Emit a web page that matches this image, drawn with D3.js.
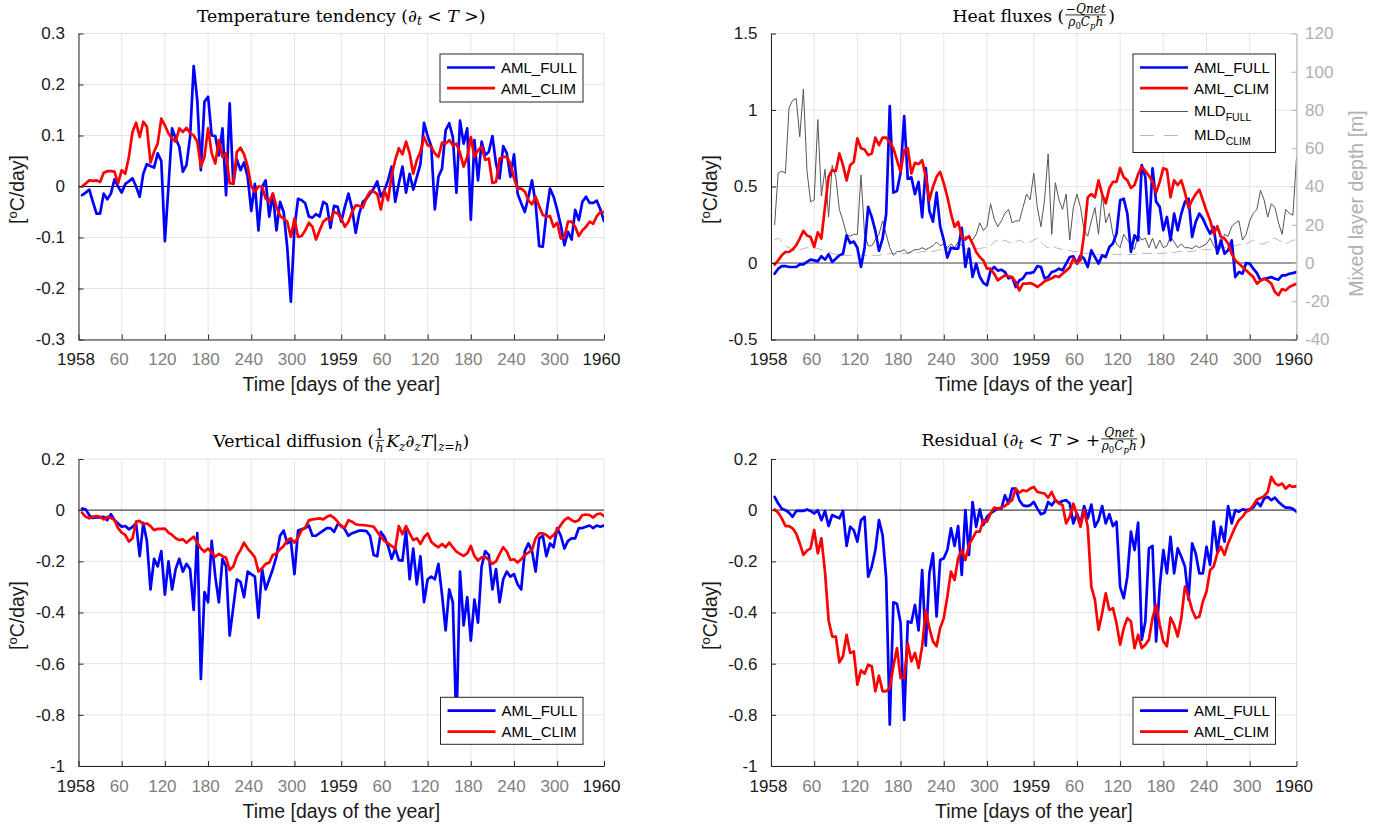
<!DOCTYPE html>
<html>
<head>
<meta charset="utf-8">
<title>AML heat budget 1958-1959</title>
<script src="https://cdnjs.cloudflare.com/ajax/libs/d3/7.8.5/d3.min.js"></script>
<style>
  body { margin: 0; background: #fff; }
  svg { display: block; font-family: "Liberation Sans", Arial, Helvetica, sans-serif; }
  svg text { white-space: pre; }
  .grid line { stroke: #e4e4e4; stroke-width: 1; }
  .data { fill: none; stroke-linejoin: round; stroke-linecap: round; }
  .title text { font-family: "DejaVu Serif", serif; fill: #000; }
</style>
</head>
<body>
<div id="chart"></div>
<script>
// 5-day means, days counted from 1 Jan 1958
var days = d3.range(5, 731, 5);
var xTickDays = [0, 60, 120, 180, 240, 300, 365, 425, 485, 545, 605, 665, 730];
var xTickLabels = ["1958", "60", "120", "180", "240", "300", "1959", "60", "120", "180", "240", "300", "1960"];

// temperature tendency [degC/day]
var tendFull = [
  -0.017,-0.012,-0.006,-0.03,-0.053,-0.053,-0.014,-0.025,-0.014,0.014,
  0.0,-0.012,0.005,0.01,0.016,0.0,-0.02,0.025,0.044,0.04,
  0.037,0.065,0.05,-0.107,0.0,0.114,0.094,0.078,0.029,0.042,
  0.097,0.236,0.169,0.032,0.166,0.176,0.1,0.099,0.061,0.114,
  -0.017,0.163,0.005,0.053,0.032,0.047,0.019,-0.048,0.005,-0.086,
  -0.001,0.012,-0.059,-0.014,-0.086,-0.03,-0.05,-0.12,-0.226,-0.081,
  -0.024,-0.027,-0.033,-0.059,-0.061,-0.054,-0.059,-0.03,-0.035,-0.081,
  -0.038,-0.04,-0.069,-0.04,-0.014,-0.043,-0.091,-0.053,-0.03,-0.024,
  -0.014,-0.004,0.01,-0.02,-0.007,0.012,0.039,-0.03,0.006,0.039,
  -0.012,0.025,-0.006,0.019,0.044,0.125,0.099,0.079,-0.045,0.019,
  0.035,0.11,0.124,0.097,-0.012,0.129,0.084,0.114,-0.065,0.091,
  0.012,0.088,0.061,0.068,0.099,0.045,0.016,0.079,0.065,0.019,
  0.063,-0.014,-0.033,-0.05,-0.02,0.012,-0.033,-0.117,-0.118,-0.053,
  -0.004,-0.02,-0.046,-0.076,-0.115,-0.089,-0.104,-0.046,-0.066,-0.03,
  -0.02,-0.032,-0.032,-0.028,-0.045,-0.068
];
var tendClim = [
  0.0,0.006,0.012,0.011,0.012,0.009,0.027,0.03,0.03,0.029,
  0.006,0.032,0.025,0.058,0.107,0.125,0.097,0.127,0.117,0.047,
  0.068,0.084,0.133,0.12,0.104,0.094,0.088,0.114,0.107,0.115,
  0.105,0.1,0.088,0.039,0.058,0.114,0.065,0.045,0.091,0.058,
  0.065,0.006,0.006,0.068,0.076,0.063,0.039,0.0,-0.01,0.0,
  0.0,-0.024,-0.03,-0.014,-0.04,-0.058,-0.063,-0.069,-0.099,-0.063,
  -0.099,-0.097,-0.086,-0.071,-0.079,-0.104,-0.086,-0.069,-0.063,-0.066,
  -0.05,-0.053,-0.063,-0.079,-0.069,-0.05,-0.037,-0.038,-0.041,-0.022,
  -0.01,-0.01,-0.015,-0.045,-0.008,-0.027,0.022,0.052,0.075,0.063,
  0.088,0.065,0.025,0.052,0.068,0.097,0.081,0.078,0.065,0.058,
  0.086,0.084,0.091,0.081,0.084,0.066,0.039,0.058,0.097,0.058,
  0.071,0.078,0.052,0.055,0.007,0.009,0.055,0.058,0.058,0.045,
  0.016,-0.004,-0.004,-0.01,-0.027,-0.035,-0.02,-0.039,-0.056,-0.059,
  -0.058,-0.079,-0.071,-0.102,-0.099,-0.069,-0.069,-0.079,-0.097,-0.086,
  -0.079,-0.069,-0.073,-0.058,-0.05,-0.05
];

// heat fluxes -Qnet/(rho0 Cp h) [degC/day]
var fluxFull = [
  -0.07,-0.037,-0.02,-0.02,-0.026,-0.026,-0.026,-0.009,-0.009,0.007,
  0.022,0.017,0.011,0.044,0.022,0.057,0.007,0.028,0.05,0.061,
  0.18,0.13,0.14,0.10,-0.026,0.10,0.367,0.30,0.21,0.08,
  0.16,0.32,1.026,0.46,0.47,0.59,0.96,0.55,0.56,0.45,
  0.53,0.30,0.62,0.34,0.27,0.46,0.24,0.15,0.035,0.10,
  0.094,0.094,0.23,-0.026,0.094,-0.09,-0.004,-0.09,-0.13,-0.146,
  -0.05,-0.026,-0.05,-0.044,-0.059,-0.10,-0.092,-0.157,-0.114,-0.10,
  -0.066,-0.066,-0.06,-0.02,-0.026,-0.1,-0.092,-0.059,-0.052,-0.037,
  -0.048,-0.004,0.039,0.044,-0.004,0.05,0.028,-0.026,0.083,0.039,
  -0.004,0.05,0.039,0.105,0.127,0.192,0.41,0.42,0.323,0.072,
  0.181,0.148,0.64,0.563,0.192,0.618,0.40,0.367,0.214,0.301,
  0.148,0.323,0.214,0.323,0.40,0.42,0.17,0.269,0.323,0.29,
  0.236,0.192,0.236,0.061,0.148,0.061,0.083,0.148,-0.092,-0.059,
  -0.07,0.0,-0.004,-0.037,-0.066,-0.114,-0.103,-0.098,-0.092,-0.103,
  -0.109,-0.081,-0.081,-0.07,-0.066,-0.059
];
var fluxClim = [
  -0.01,0.017,0.05,0.072,0.072,0.087,0.116,0.16,0.21,0.18,
  0.17,0.105,0.2,0.16,0.367,0.563,0.607,0.6,0.716,0.64,
  0.54,0.64,0.66,0.814,0.75,0.742,0.705,0.716,0.82,0.77,
  0.82,0.82,0.79,0.75,0.672,0.596,0.738,0.75,0.585,0.655,
  0.646,0.672,0.563,0.41,0.498,0.563,0.596,0.52,0.432,0.323,
  0.236,0.269,0.17,0.153,0.175,0.127,0.072,0.039,0.017,-0.037,
  -0.037,-0.07,-0.114,-0.096,-0.081,-0.087,-0.092,-0.125,-0.179,-0.135,
  -0.135,-0.131,-0.14,-0.157,-0.14,-0.12,-0.11,-0.1,-0.085,-0.092,
  -0.07,-0.05,-0.03,0.03,0.0,0.02,0.19,0.43,0.45,0.43,
  0.54,0.45,0.39,0.49,0.53,0.53,0.62,0.56,0.54,0.49,
  0.51,0.58,0.63,0.6,0.57,0.53,0.46,0.53,0.62,0.61,
  0.43,0.54,0.51,0.54,0.46,0.36,0.41,0.45,0.48,0.41,
  0.34,0.28,0.19,0.24,0.17,0.16,0.127,0.06,0.017,-0.004,
  -0.026,-0.048,-0.07,-0.092,-0.135,-0.114,-0.103,-0.114,-0.135,-0.19,
  -0.21,-0.17,-0.179,-0.157,-0.146,-0.135
];

// mixed layer depth [m] (right axis)
var mldFull = [
  20,47,48,47,81,85,86,66,91,48,
  32,33,75,35,49,24,51,45,28,22,
  15,14,15,15,46,15,9,9,12,15,
  22,15,8,4,6,6,7,5,6,7,
  7,8,7,8,9,11,9,10,8,10,
  8,11,9,14,13,12,15,21,17,19,
  31,23,19,22,26,28,21,22,22,29,
  36,33,47,29,19,33,57,15,42,33,
  28,36,12,29,36,29,17,14,22,29,
  15,36,21,26,15,10,8,15,12,10,
  7,15,12,13,8,13,7.5,12,8,9,
  14,11,8,10,8,8,7.5,9,8,9,
  10,13,9,6,8,15,14,19,21,22,
  12,15,22,26,28,38,33,24,31,29,
  21,15,28,26,25,55
];
var mldClim = [
  12,13,11,9,8,7,6.5,7,7.5,8,
  7.5,8,7.5,7,6,6,5,4.5,4.5,4,
  4,4,4,4,4,4,4,4,4,4,
  4.5,4.5,5,5,5,5,5,5,5.5,5.5,
  5.5,6,6,6,6,6.5,7,7,7.5,8,
  8,8,8,7.5,7,7,7.5,7.5,8,8,
  9,11,12,11,12,11,10,11,12,11,
  10,11,12,13,11,9,8,9,8,7.5,
  7,6.5,6.5,6,6,5.5,5,5,5,4.5,
  4.5,4.5,4.5,4.5,4.5,4.5,4.5,4.5,4.5,4.5,
  4.5,5,5,5,5,5,5,5,5,5.5,
  5.5,5.5,6,6,6,6,6,6.5,6.5,7,
  7,7,7.5,7.5,8,8,8.5,9,9,9.5,
  10,10,11,12,11,10,10,11,12,13,
  12,11,10,11,12,12
];

// vertical diffusion [degC/day]
var diffFull = [
  0.006,0.003,-0.02,-0.03,-0.027,-0.028,-0.026,-0.039,-0.016,-0.039,
  -0.052,-0.065,-0.062,-0.075,-0.065,-0.052,-0.18,-0.05,-0.12,-0.31,
  -0.19,-0.22,-0.16,-0.33,-0.2,-0.31,-0.23,-0.19,-0.24,-0.21,
  -0.23,-0.39,-0.09,-0.66,-0.32,-0.36,-0.12,-0.26,-0.36,-0.19,
  -0.22,-0.49,-0.38,-0.27,-0.28,-0.34,-0.24,-0.25,-0.26,-0.42,
  -0.23,-0.31,-0.27,-0.23,-0.18,-0.10,-0.08,-0.13,-0.12,-0.25,
  -0.08,-0.075,-0.07,-0.06,-0.10,-0.10,-0.09,-0.08,-0.07,-0.07,
  -0.085,-0.055,-0.06,-0.075,-0.10,-0.09,-0.085,-0.08,-0.08,-0.082,
  -0.10,-0.175,-0.18,-0.085,-0.105,-0.14,-0.19,-0.15,-0.195,-0.197,
  -0.08,-0.27,-0.15,-0.29,-0.18,-0.36,-0.27,-0.26,-0.27,-0.21,
  -0.33,-0.47,-0.31,-0.36,-0.85,-0.24,-0.45,-0.34,-0.51,-0.35,
  -0.44,-0.22,-0.16,-0.175,-0.31,-0.23,-0.36,-0.27,-0.24,-0.26,
  -0.25,-0.29,-0.31,-0.16,-0.13,-0.16,-0.24,-0.11,-0.10,-0.18,
  -0.13,-0.145,-0.07,-0.10,-0.15,-0.12,-0.11,-0.11,-0.07,-0.07,
  -0.065,-0.06,-0.07,-0.06,-0.065,-0.06
];
var diffClim = [
  -0.01,-0.026,-0.032,-0.026,-0.023,-0.026,-0.036,-0.026,-0.03,-0.039,
  -0.07,-0.088,-0.097,-0.123,-0.11,-0.045,-0.042,-0.055,-0.052,-0.062,
  -0.078,-0.073,-0.073,-0.072,-0.088,-0.097,-0.11,-0.117,-0.114,-0.127,
  -0.115,-0.104,-0.127,-0.15,-0.162,-0.15,-0.166,-0.182,-0.171,-0.18,
  -0.186,-0.234,-0.22,-0.18,-0.156,-0.127,-0.15,-0.166,-0.184,-0.24,
  -0.227,-0.21,-0.205,-0.175,-0.169,-0.153,-0.14,-0.117,-0.11,-0.127,
  -0.107,-0.078,-0.068,-0.04,-0.036,-0.034,-0.032,-0.036,-0.026,-0.02,
  -0.03,-0.045,-0.065,-0.068,-0.039,-0.045,-0.055,-0.058,-0.058,-0.06,
  -0.062,-0.065,-0.084,-0.104,-0.12,-0.13,-0.14,-0.15,-0.062,-0.094,
  -0.062,-0.091,-0.117,-0.11,-0.132,-0.106,-0.091,-0.123,-0.136,-0.145,
  -0.132,-0.145,-0.127,-0.145,-0.162,-0.171,-0.179,-0.169,-0.14,-0.179,
  -0.197,-0.184,-0.182,-0.195,-0.21,-0.2,-0.171,-0.145,-0.162,-0.195,
  -0.192,-0.205,-0.192,-0.175,-0.166,-0.156,-0.11,-0.091,-0.091,-0.097,
  -0.11,-0.097,-0.078,-0.058,-0.039,-0.029,-0.039,-0.045,-0.039,-0.019,
  -0.017,-0.019,-0.029,-0.016,-0.013,-0.023
];

// residual [degC/day]
var resFull = [
  0.052,0.026,0.006,0.0,-0.01,-0.026,-0.003,-0.003,-0.003,0.003,
  -0.003,-0.013,0.0,-0.039,-0.003,-0.062,-0.019,-0.026,-0.032,-0.003,
  -0.14,-0.065,-0.078,-0.123,-0.039,-0.026,-0.26,-0.22,-0.156,-0.039,
  -0.097,-0.266,-0.838,-0.36,-0.366,-0.44,-0.82,-0.435,-0.44,-0.37,
  -0.47,-0.234,-0.53,-0.247,-0.169,-0.415,-0.195,-0.188,-0.156,-0.071,
  -0.14,-0.062,-0.253,0.0,-0.175,0.032,-0.065,0.003,-0.058,-0.026,
  -0.013,-0.003,0.006,0.006,0.058,0.026,0.084,0.084,0.039,0.019,
  0.016,0.019,0.032,0.006,-0.016,-0.01,0.032,0.019,0.039,0.029,
  0.036,0.039,0.026,-0.052,-0.013,-0.052,0.016,-0.032,0.022,-0.065,
  -0.039,0.016,-0.052,-0.016,-0.062,-0.045,-0.3,-0.344,-0.26,-0.084,
  -0.156,-0.049,-0.506,-0.435,-0.149,-0.14,-0.513,-0.3,-0.156,-0.247,
  -0.104,-0.247,-0.149,-0.182,-0.22,-0.35,-0.13,-0.169,-0.247,-0.247,
  -0.143,-0.214,-0.045,-0.162,-0.065,-0.123,0.016,-0.052,0.0,-0.006,
  0.003,0.0,0.003,0.01,0.032,0.016,0.045,0.052,0.039,0.049,
  0.032,0.02,0.01,0.01,0.005,-0.006
];
var resClim = [
  0.003,-0.01,-0.032,-0.062,-0.062,-0.071,-0.091,-0.13,-0.175,-0.158,
  -0.149,-0.078,-0.169,-0.11,-0.24,-0.43,-0.494,-0.494,-0.595,-0.571,
  -0.487,-0.558,-0.552,-0.682,-0.626,-0.639,-0.604,-0.61,-0.708,-0.647,
  -0.708,-0.708,-0.695,-0.61,-0.539,-0.656,-0.656,-0.522,-0.591,-0.558,
  -0.617,-0.532,-0.392,-0.461,-0.513,-0.532,-0.461,-0.422,-0.338,-0.24,
  -0.273,-0.188,-0.156,-0.195,-0.136,-0.11,-0.084,-0.084,-0.039,-0.045,
  -0.013,0.01,0.006,0.01,0.016,0.029,0.039,0.084,0.068,0.078,
  0.074,0.084,0.091,0.071,0.068,0.065,0.049,0.071,0.039,0.026,
  0.02,-0.052,-0.026,0.026,-0.019,-0.065,0.0,-0.065,-0.3,-0.351,
  -0.468,-0.403,-0.325,-0.39,-0.383,-0.442,-0.526,-0.461,-0.422,-0.435,
  -0.539,-0.487,-0.539,-0.526,-0.506,-0.422,-0.37,-0.448,-0.513,-0.532,
  -0.42,-0.448,-0.494,-0.422,-0.299,-0.338,-0.39,-0.422,-0.416,-0.357,
  -0.318,-0.234,-0.22,-0.169,-0.143,-0.175,-0.13,-0.097,-0.065,-0.039,
  -0.026,-0.006,0.0,0.019,0.042,0.047,0.055,0.071,0.13,0.106,
  0.097,0.104,0.084,0.097,0.091,0.094
];

var blue = "#0000ff", red = "#ff0000", axisColor = "#262626";

// title pieces: t = text, i = italic, sub = subscript, frac = [numerator, denominator]
var densityDen = [{t: "ρ", i: 1}, {t: "0", sub: 1}, {t: "C", i: 1}, {t: "p", sub: 1, i: 1}, {t: "h", i: 1}];

var panels = [
  {
    left: 78.5, right: 604, top: 33.5, bottom: 339.5,
    yDomain: [-0.3, 0.3], yTicks: [-0.3, -0.2, -0.1, 0, 0.1, 0.2, 0.3],
    full: tendFull, clim: tendClim, zeroColor: "#000",
    titleY: 21.5,
    title: [{t: "Temperature tendency ("}, {t: "∂", i: 1}, {t: "t", sub: 1, i: 1}, {t: " < "}, {t: "T", i: 1}, {t: " >)"}],
    legend: {x: 440, y: 54, w: 143, h: 48, rows: [13.5, 34.2]}
  },
  {
    left: 771, right: 1296.5, top: 33.5, bottom: 339.5,
    yDomain: [-0.5, 1.5], yTicks: [-0.5, 0, 0.5, 1, 1.5],
    full: fluxFull, clim: fluxClim, zeroColor: "#4d4d4d", mld: true,
    titleY: 21.5,
    title: [{t: "Heat fluxes ("}, {frac: [[{t: "−"}, {t: "Qnet", i: 1}], densityDen]}, {t: ")"}],
    legend: {x: 1133, y: 54, w: 142.5, h: 98.5, rows: [13.5, 34.2, 57.5, 81.5]}
  },
  {
    left: 78.5, right: 604, top: 459, bottom: 766,
    yDomain: [-1, 0.2], yTicks: [-1, -0.8, -0.6, -0.4, -0.2, 0, 0.2],
    full: diffFull, clim: diffClim, zeroColor: "#4d4d4d",
    titleY: 447,
    title: [{t: "Vertical diffusion ("}, {frac: [[{t: "1"}], [{t: "h", i: 1}]]}, {t: "K", i: 1}, {t: "z", sub: 1, i: 1},
            {t: "∂", i: 1}, {t: "z", sub: 1, i: 1}, {t: "T", i: 1}, {t: "|"}, {t: "z=h", sub: 1, i: 1}, {t: ")"}],
    legend: {x: 440.5, y: 697.3, w: 142.5, h: 47, rows: [13.4, 34.4]}
  },
  {
    left: 771, right: 1296.5, top: 459, bottom: 766,
    yDomain: [-1, 0.2], yTicks: [-1, -0.8, -0.6, -0.4, -0.2, 0, 0.2],
    full: resFull, clim: resClim, zeroColor: "#4d4d4d",
    titleY: 445.5,
    title: [{t: "Residual ("}, {t: "∂", i: 1}, {t: "t", sub: 1, i: 1}, {t: " < "}, {t: "T", i: 1}, {t: " > +"},
            {frac: [[{t: "Qnet", i: 1}], densityDen]}, {t: ")"}],
    legend: {x: 1133, y: 697.3, w: 142.5, h: 47, rows: [13.4, 34.4]}
  }
];

var svg = d3.select("#chart")
  .append("svg")
  .attr("width", 1391)
  .attr("height", 828);

// writes a row of (possibly nested) text pieces, returns its width
function addPieces(parent, pieces, x0, baseline, size) {
  var x = x0;
  pieces.forEach(function (p) {
    if (p.frac) {
      var fs = size * 0.7;
      var num = parent.append("g");
      var den = parent.append("g");
      var wn = addPieces(num, p.frac[0], 0, baseline - size * 0.5, fs);
      var wd = addPieces(den, p.frac[1], 0, baseline + size * 0.27, fs);
      var w = Math.max(wn, wd) + 3;
      num.attr("transform", "translate(" + (x + (w - wn) / 2) + ",0)");
      den.attr("transform", "translate(" + (x + (w - wd) / 2) + ",0)");
      parent.append("line")
        .attr("x1", x + 1).attr("x2", x + w - 1)
        .attr("y1", baseline - size * 0.38).attr("y2", baseline - size * 0.38)
        .attr("stroke", "#000").attr("stroke-width", 0.8);
      x += w + 1;
      return;
    }
    var t = parent.append("text")
      .attr("x", x)
      .attr("y", p.sub ? baseline + size * 0.22 : baseline)
      .attr("font-size", p.sub ? size * 0.7 : size)
      .style("font-style", p.i ? "italic" : "normal")
      .text(p.t);
    x += t.node().getComputedTextLength();
  });
  return x - x0;
}

function drawPanel(p, k) {
  var x = d3.scaleLinear().domain([0, 730]).range([p.left, p.right]);
  var y = d3.scaleLinear().domain(p.yDomain).range([p.bottom, p.top]);
  var g = svg.append("g");

  g.append("clipPath").attr("id", "clip" + k)
    .append("rect")
    .attr("x", p.left).attr("y", p.top)
    .attr("width", p.right - p.left).attr("height", p.bottom - p.top);

  // grid
  var grid = g.append("g").attr("class", "grid");
  grid.selectAll(".gx").data(xTickDays).enter().append("line")
    .attr("x1", function (d) { return x(d); })
    .attr("x2", function (d) { return x(d); })
    .attr("y1", p.top).attr("y2", p.bottom);
  grid.selectAll(".gy").data(p.yTicks).enter().append("line")
    .attr("x1", p.left).attr("x2", p.right)
    .attr("y1", function (d) { return y(d); })
    .attr("y2", function (d) { return y(d); });

  var plot = g.append("g").attr("clip-path", "url(#clip" + k + ")");

  plot.append("line")
    .attr("x1", x(0)).attr("x2", x(730))
    .attr("y1", y(0)).attr("y2", y(0))
    .attr("stroke", p.zeroColor).attr("stroke-width", 1.1);

  if (p.mld) {
    var y2 = d3.scaleLinear().domain([-40, 120]).range([p.bottom, p.top]);
    var mldLine = d3.line()
      .x(function (d) { return x(d[0]); })
      .y(function (d) { return y2(d[1]); });
    plot.append("path").datum(d3.zip(days, mldClim))
      .attr("class", "data").attr("d", mldLine)
      .attr("stroke", "#b8b8b8").attr("stroke-width", 1).attr("stroke-dasharray", "9,6");
    plot.append("path").datum(d3.zip(days, mldFull))
      .attr("class", "data").attr("d", mldLine)
      .attr("stroke", "#555").attr("stroke-width", 1);

    var rAxis = g.append("g")
      .attr("transform", "translate(" + p.right + ",0)")
      .call(d3.axisRight(y2).tickValues([-40, -20, 0, 20, 40, 60, 80, 100, 120])
        .tickSize(-5).tickSizeOuter(0).tickPadding(8.5)
        .tickFormat(function (d) { return String(d); }))
      .attr("font-family", null).attr("font-size", 17);
    rAxis.selectAll("path, line").attr("stroke", "#b3b3b3");
    rAxis.selectAll("text").attr("fill", "#b0b0b0");

    g.append("text")
      .attr("transform", "translate(1363," + ((p.top + p.bottom) / 2 + 17) + ") rotate(-90)")
      .attr("text-anchor", "middle")
      .attr("font-size", 19.5)
      .attr("fill", "#b0b0b0")
      .text("Mixed layer depth [m]");
  }

  var line = d3.line()
    .x(function (d) { return x(d[0]); })
    .y(function (d) { return y(d[1]); });

  plot.append("path").datum(d3.zip(days, p.full))
    .attr("class", "data").attr("d", line)
    .attr("stroke", blue).attr("stroke-width", 2.7);
  plot.append("path").datum(d3.zip(days, p.clim))
    .attr("class", "data").attr("d", line)
    .attr("stroke", red).attr("stroke-width", 2.7);

  // axes
  var xAxis = g.append("g")
    .attr("transform", "translate(0," + p.bottom + ")")
    .call(d3.axisBottom(x).tickValues(xTickDays)
      .tickSize(-5).tickSizeOuter(0).tickPadding(13.5)
      .tickFormat(function (d, i) { return xTickLabels[i]; }))
    .attr("font-family", null).attr("font-size", 17);
  xAxis.selectAll("path, line").attr("stroke", axisColor);
  xAxis.selectAll("text")
    .attr("dx", -3)
    .attr("fill", function (d, i) { return i % 6 === 0 ? "#1a1a1a" : "#808080"; });

  var yAxis = g.append("g")
    .attr("transform", "translate(" + p.left + ",0)")
    .call(d3.axisLeft(y).tickValues(p.yTicks)
      .tickSize(-5).tickSizeOuter(0).tickPadding(13.5)
      .tickFormat(function (d) { return String(d); }))
    .attr("font-family", null).attr("font-size", 17);
  yAxis.selectAll("path, line").attr("stroke", axisColor);
  yAxis.selectAll("text").attr("fill", "#1a1a1a");

  // labels
  var cx = (p.left + p.right) / 2;
  g.append("text")
    .attr("x", cx).attr("y", p.bottom + 51.5)
    .attr("text-anchor", "middle")
    .attr("font-size", 19.5)
    .attr("fill", "#1a1a1a")
    .text("Time [days of the year]");

  var yl = g.append("text")
    .attr("transform", "translate(" + (p.left - 54.5) + "," + ((p.top + p.bottom) / 2 + 3) + ") rotate(-90)")
    .attr("text-anchor", "middle")
    .attr("font-size", 19.5)
    .attr("fill", "#1a1a1a");
  yl.append("tspan").text("[");
  yl.append("tspan").attr("font-size", 13).attr("dy", -7).text("o");
  yl.append("tspan").attr("dy", 7).text("C/day]");

  // title
  var tg = g.append("g").attr("class", "title");
  var tw = addPieces(tg, p.title, 0, p.titleY, 17.3);
  tg.attr("transform", "translate(" + (cx - tw / 2) + ",0)");

  // legend
  var L = p.legend;
  var entries = [
    {label: "AML_FULL", color: blue, width: 2.7},
    {label: "AML_CLIM", color: red, width: 2.7}
  ];
  if (p.mld) {
    entries.push({label: "MLD", sub: "FULL", color: "#555", width: 1});
    entries.push({label: "MLD", sub: "CLIM", color: "#b8b8b8", width: 1, dash: "14,10"});
  }
  var lg = g.append("g");
  lg.append("rect")
    .attr("x", L.x).attr("y", L.y).attr("width", L.w).attr("height", L.h)
    .attr("fill", "#fff").attr("stroke", axisColor).attr("stroke-width", 1);
  entries.forEach(function (e, i) {
    var cy = L.y + L.rows[i];
    lg.append("line")
      .attr("x1", L.x + 7).attr("x2", L.x + 55)
      .attr("y1", cy).attr("y2", cy)
      .attr("stroke", e.color).attr("stroke-width", e.width)
      .attr("stroke-dasharray", e.dash || null);
    var tx = lg.append("text")
      .attr("x", L.x + 61)
      .attr("y", cy + (e.sub ? 4 : 5.5))
      .attr("font-size", 15)
      .attr("fill", "#000")
      .text(e.label);
    if (e.sub) {
      tx.append("tspan").attr("font-size", 10.5).attr("dy", 5.5).text(e.sub);
    }
  });
}

panels.forEach(drawPanel);
</script>
</body>
</html>
